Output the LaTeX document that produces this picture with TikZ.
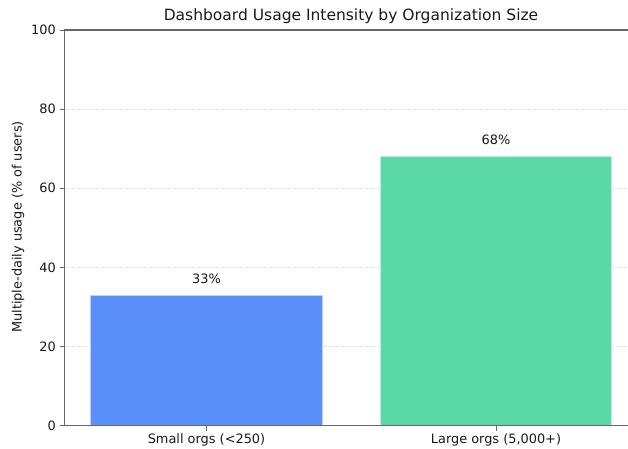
\documentclass[tikz,border=0pt]{standalone}
\usepackage{fontspec}
\setmainfont{DejaVu Sans}
\definecolor{barblue}{HTML}{5B8FF9}
\definecolor{bargreen}{HTML}{5AD8A6}
\definecolor{spine}{HTML}{666666}
\definecolor{gridc}{HTML}{E2E2E2}
\begin{document}
\begin{tikzpicture}[x=1pt,y=-1pt,
  lbl/.style={font=\fontsize{12.9}{14}\selectfont, text=black!90, inner sep=0pt},
  spineline/.style={draw=spine, line width=1.2pt},
  gridline/.style={draw=gridc, line width=0.7pt, dash pattern=on 4pt off 2pt},
  tickline/.style={draw=spine, line width=0.8pt}]
\useasboundingbox (0,0) rectangle (628,448);
% grid
\foreach \v in {20,40,60,80}{
  \draw[gridline] (64.5,{425.7-3.957*\v}) -- (628,{425.7-3.957*\v});
}
% bars
\fill[barblue] (90.7,425.7) rectangle (322.3,{425.7-3.957*33});
\draw[white!60!barblue, line width=0.6pt] (90.7,425.7) -- (90.7,{425.7-3.957*33}) -- (322.3,{425.7-3.957*33}) -- (322.3,425.7);
\fill[bargreen] (380.3,425.7) rectangle (611.7,{425.7-3.957*68});
\draw[white!60!bargreen, line width=0.6pt] (380.3,425.7) -- (380.3,{425.7-3.957*68}) -- (611.7,{425.7-3.957*68}) -- (611.7,425.7);
% spines
\draw[spineline] (64.5,425.7) -- (64.5,30) -- (628,30);
\draw[spineline] (64.5,425.7) -- (628,425.7);
% y ticks
\foreach \v in {0,20,40,60,80,100}{
  \draw[tickline] (59.5,{425.7-3.957*\v}) -- (64.5,{425.7-3.957*\v});
  \node[lbl, anchor=east] (yt\v) at (56,{425.7-3.957*\v}) {\v};
}
% x ticks
\draw[tickline] (206.5,425.7) -- (206.5,430.7);
\draw[tickline] (496,425.7) -- (496,430.7);
\node[lbl] (xs) at (206.5,439.5) {Small orgs (<250)};
\node[lbl] (xl) at (496,439.5) {Large orgs (5,000+)};
% value labels
\node[lbl] (v1) at (206.5,279) {33\%};
\node[lbl] (v2) at (496,140) {68\%};
% axis label
\node[lbl, rotate=90] (ylab) at (18,227) {Multiple-daily usage (\% of users)};
% title
\node[font=\fontsize{15.5}{18}\selectfont, text=black!90, inner sep=0pt] (title) at (351,16) {Dashboard Usage Intensity by Organization Size};
\end{tikzpicture}
\end{document}
